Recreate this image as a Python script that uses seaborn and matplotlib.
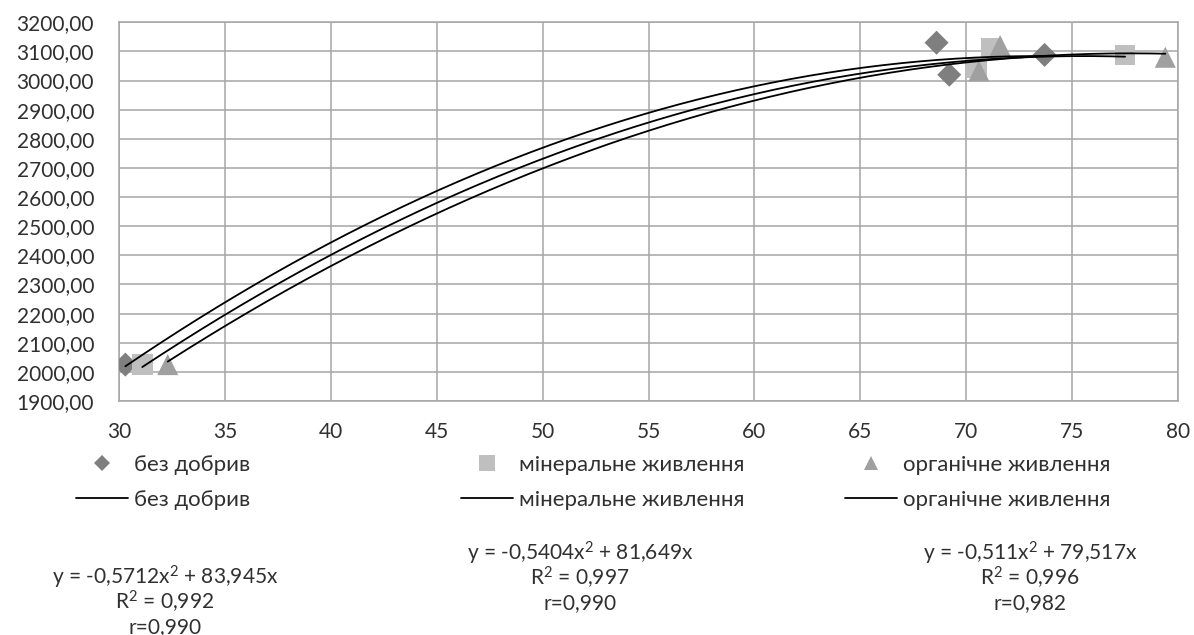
import numpy as np
import pandas as pd
import matplotlib
matplotlib.use("Agg")
import matplotlib.pyplot as plt
from matplotlib.lines import Line2D
from matplotlib.ticker import FuncFormatter, MultipleLocator
import seaborn as sns

# ---- data ----
series_names = ["без добрив", "мінеральне живлення", "органічне живлення"]

x_bez = [30.3, 68.6, 69.2, 73.7]
y_bez = [2025, 3130, 3020, 3088]

x_min = [31.1, 70.5, 71.2, 77.5]
y_min = [2025, 3043, 3110, 3088]

x_org = [32.3, 70.6, 71.6, 79.4]
y_org = [2025, 3033, 3120, 3080]

# trend-line coefficients as printed (y = a*x^2 + b*x)
coef_a = [-0.5712, -0.5404, -0.511]
coef_b = [83.945, 81.649, 79.517]

eq_texts = [
    ["y = -0,5712x$^{2}$ + 83,945x", "R$^{2}$ = 0,992", "r=0,990"],
    ["y = -0,5404x$^{2}$ + 81,649x", "R$^{2}$ = 0,997", "r=0,990"],
    ["y = -0,511x$^{2}$ + 79,517x", "R$^{2}$ = 0,996", "r=0,982"],
]

x_ticks = [30, 35, 40, 45, 50, 55, 60, 65, 70, 75, 80]
y_range = (1900, 3200)

# ---- style ----
sns.set_theme(style="white")
plt.rcParams["font.family"] = ["Lato", "DejaVu Sans"]
plt.rcParams["mathtext.fontset"] = "custom"
plt.rcParams["mathtext.rm"] = "Lato"
plt.rcParams["mathtext.it"] = "Lato"
plt.rcParams["mathtext.default"] = "regular"
TXT = "#303030"
GRID = "#a6a6a6"
FS = 15

marker_colors = ["#7f7f7f", "#bfbfbf", "#a0a0a0"]
markers = ["D", "s", "^"]
sizes = [150, 220, 230]

W, H = 1194, 635
fig = plt.figure(figsize=(W / 100, H / 100), dpi=100)
ax = fig.add_axes([119 / W, 1 - 401 / H, (1178 - 119) / W, (401 - 22.3) / H])

xs = [x_bez, x_min, x_org]
ys = [y_bez, y_min, y_org]

for i in range(3):
    df = pd.DataFrame({"x": xs[i], "y": ys[i]})
    sns.scatterplot(data=df, x="x", y="y", marker=markers[i], s=sizes[i],
                    color=marker_colors[i], edgecolor="none", linewidth=0,
                    ax=ax, zorder=3, legend=False)

for i in range(3):
    xt = np.linspace(min(xs[i]), max(xs[i]), 200)
    yt = coef_a[i] * xt ** 2 + coef_b[i] * xt
    dft = pd.DataFrame({"x": xt, "y": yt})
    sns.lineplot(data=dft, x="x", y="y", color="black", linewidth=1.3,
                 ax=ax, zorder=4, legend=False)

ax.set_xlim(30, 80)
ax.set_ylim(*y_range)
ax.set_xticks(x_ticks)
ax.yaxis.set_major_locator(MultipleLocator(100))
ax.yaxis.set_major_formatter(FuncFormatter(lambda v, p: f"{v:.2f}".replace(".", ",")))
ax.set_xlabel("")
ax.set_ylabel("")
ax.grid(True, color=GRID, linewidth=1.1)
ax.set_axisbelow(True)
for s in ax.spines.values():
    s.set_color(GRID)
    s.set_linewidth(1.1)
ax.tick_params(axis="both", length=0, labelsize=FS, colors=TXT)
ax.tick_params(axis="y", pad=18)
ax.tick_params(axis="x", pad=15)

# ---- legends (three separate blocks) ----
leg_x = [76, 461, 845]
LFS = 16
for i in range(3):
    h1 = Line2D([], [], marker=markers[i], linestyle="none",
                color=marker_colors[i], markersize=[8, 11, 10][i],
                markeredgewidth=0)
    h2 = Line2D([], [], color="black", linewidth=1.3)
    fig.legend(handles=[h1, h2], labels=[series_names[i], series_names[i]],
               loc="upper left", bbox_to_anchor=(leg_x[i] / W, 1 - 455 / H),
               bbox_transform=fig.transFigure, frameon=False, fontsize=LFS,
               handlelength=2.35, handletextpad=0.25, borderpad=0,
               borderaxespad=0, labelspacing=0.68, labelcolor=TXT)

# ---- equations ----
eq_x = [165, 580, 1030]
eq_y0 = [577, 553, 553]
for i in range(3):
    for j, t in enumerate(eq_texts[i]):
        fig.text(eq_x[i] / W, 1 - (eq_y0[i] + 25 * j) / H, t, ha="center",
                 va="center", fontsize=FS, color=TXT)

fig.savefig("out.png", dpi=100)
